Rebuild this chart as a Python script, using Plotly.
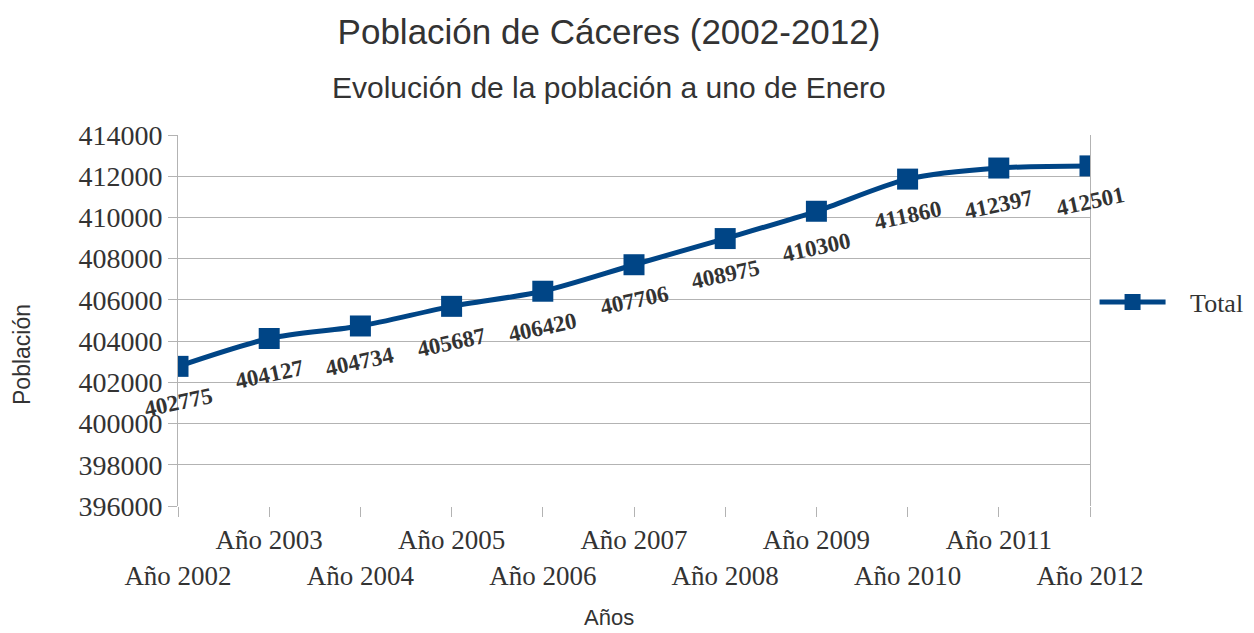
import plotly.graph_objects as go

years = ["Año 2002", "Año 2003", "Año 2004", "Año 2005", "Año 2006", "Año 2007",
         "Año 2008", "Año 2009", "Año 2010", "Año 2011", "Año 2012"]
total = [402775, 404127, 404734, 405687, 406420, 407706, 408975, 410300, 411860, 412397, 412501]
y_ticks = list(range(396000, 414001, 2000))

BLUE = "#004586"
GRID = "#b3b3b3"
TXT = "#333333"
SERIF = "Liberation Serif"
SANS = "Liberation Sans"

# page body has an 8px margin; figure is sized to fill the rest of the window
W, H, OFF = 1246, 625, 8

fig = go.Figure()
fig.add_trace(go.Scatter(
    x=years, y=total, name="\u00a0\u00a0\u00a0Total", mode="lines+markers",
    line=dict(color=BLUE, width=5, shape="spline", smoothing=0.8),
    marker=dict(symbol="square", size=21, color=BLUE),
))

ticktext = [("<br>" + c) if i % 2 == 0 else c for i, c in enumerate(years)]

annotations = []
for c, v in zip(years, total):
    annotations.append(dict(
        x=c, y=v, xref="x", yref="y", text=f"<b>{v}</b>", showarrow=False,
        textangle=-12, yshift=-36,
        font=dict(family=SERIF, size=23, color=TXT),
    ))
annotations += [
    dict(text="Evolución de la población a uno de Enero", xref="paper", yref="paper",
         x=0.4726, y=(506 - 88) / 371, showarrow=False, yanchor="middle",
         font=dict(family=SANS, size=30, color=TXT)),
    dict(text="Población", xref="paper", yref="paper", textangle=-90,
         x=(22 - 178) / 912, y=(506 - 355) / 371, showarrow=False,
         xanchor="center", yanchor="middle",
         font=dict(family=SANS, size=23, color=TXT)),
    dict(text="Años", xref="paper", yref="paper",
         x=(609 - 178) / 912, y=(506 - 617) / 371, showarrow=False,
         xanchor="center", yanchor="middle",
         font=dict(family=SANS, size=22, color=TXT)),
]

fig.update_layout(
    width=W, height=H,
    paper_bgcolor="white", plot_bgcolor="white",
    margin=dict(l=178 - OFF, r=164, t=135 - OFF, b=H - (506 - OFF), autoexpand=False),
    title=dict(text="Población de Cáceres (2002-2012)", x=(609 - OFF) / W, xanchor="center",
               y=1 - (32 - OFF) / H, yanchor="middle", xref="container", yref="container",
               font=dict(family=SANS, size=35, color=TXT)),
    showlegend=True,
    legend=dict(x=1.005, y=(506 - 302) / 371, xanchor="left", yanchor="middle",
                font=dict(family=SERIF, size=26, color=TXT), itemwidth=66,
                bgcolor="rgba(0,0,0,0)"),
    annotations=annotations,
    xaxis=dict(type="category", range=[0, 10], tickmode="array", tickvals=years,
               ticktext=ticktext, ticks="outside", ticklen=10, tickcolor=GRID,
               tickangle=0, automargin=False,
               showgrid=False, showline=False, zeroline=False,
               tickfont=dict(family=SERIF, size=27, color=TXT)),
    yaxis=dict(range=[396000, 414000], tickmode="array", tickvals=y_ticks,
               ticktext=[str(t) for t in y_ticks], ticks="outside", ticklen=9,
               tickcolor=GRID, showgrid=True, gridcolor=GRID, gridwidth=1,
               showline=True, linecolor=GRID, linewidth=1, mirror=True,
               zeroline=False, automargin=False,
               tickfont=dict(family=SERIF, size=28, color=TXT)),
)

fig.write_html("out.html")
